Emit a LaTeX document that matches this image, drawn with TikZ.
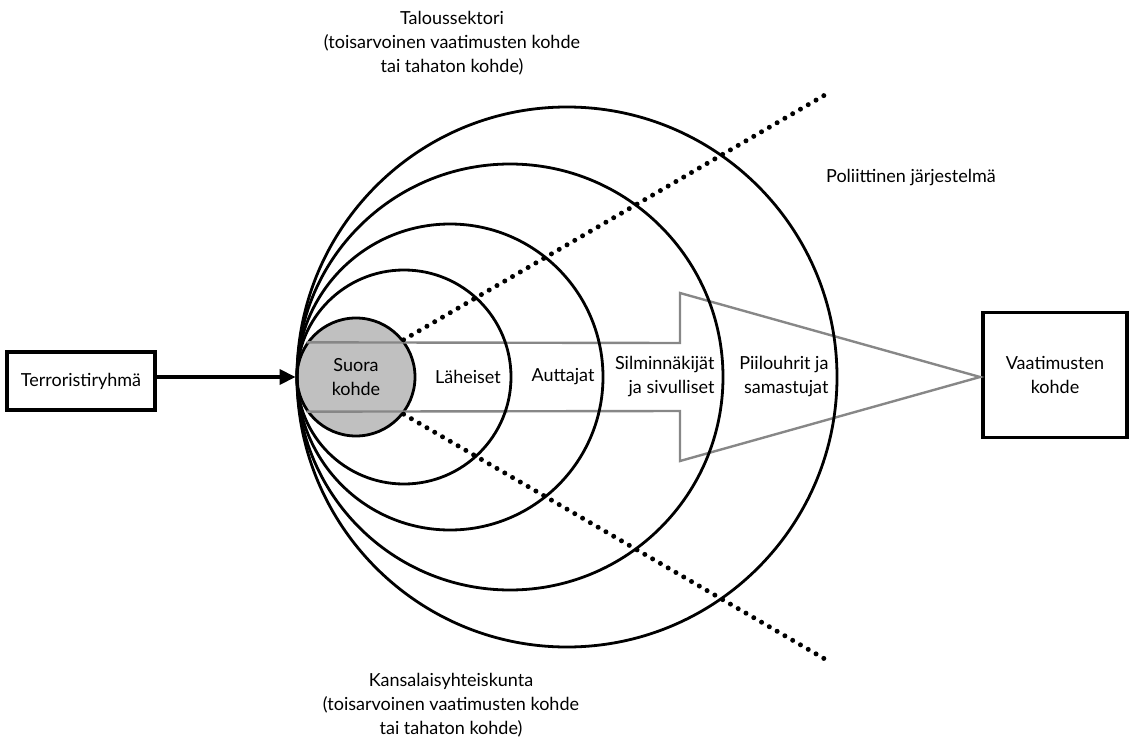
\documentclass[tikz,border=0pt]{standalone}
\usepackage{fontspec}
\setmainfont{Lato}
\usetikzlibrary{arrows.meta}
\definecolor{kohdegray}{RGB}{192,192,192}
\definecolor{nuoligray}{RGB}{135,135,135}
\def\nuoli{-- (680,343) -- (680,293) -- (980,377) -- (680,461) -- (680,411)}

\begin{document}
\begin{tikzpicture}[x=1pt,y=-1pt,
        every node/.style={font=\fontsize{18}{24}\selectfont},
        ring/.style={draw,line width=2.8pt},
        laatikko/.style={draw,line width=3.2pt},
        pisteet/.style={line width=5pt,dash pattern=on 0pt off 9pt,line cap=round}]
                \useasboundingbox (0,0) rectangle (1131,738);
                % kohteet
                \node[laatikko,minimum width=148pt,minimum height=58pt] (terror) at (81,381) {Terroristiryhmä};
                \node[laatikko,minimum width=144pt,minimum height=125pt,align=center] (vaatimus) at (1055,375) {Vaatimusten\\kohde};
                \node[ring,circle,fill=kohdegray,minimum size=118pt,inner sep=0pt,align=center] (suora) at (356,377) {Suora\\kohde};
                \draw[nuoligray,line width=2.4pt] (suora.145) \nuoli -- (suora.215);
                \foreach \r in {107,153,213,270}
                    \draw[ring] (297+\r,377) circle (\r pt);
                \draw[pisteet] (suora.38) -- (830,92);
                \draw[pisteet] (suora.-38) -- (830,662);
                \draw[line width=3.4pt,-{Triangle[length=16pt,width=15pt]}] (terror.east |- suora.west) -- (suora.west);
                % renkaiden tekstit
                \node (laheiset) at (468,377) {Läheiset};
                \node (auttajat) at (563,377) {Auttajat};
                \node[anchor=east,align=right] (silmin) at (718,377) {Silminnäkijät\\ja sivulliset};
                \node[anchor=east,align=right] (piilo) at (832,377) {Piilouhrit ja\\samastujat};
                \node[align=center] (talous) at (452,43) {Taloussektori\\(toisarvoinen vaatimusten kohde\\tai tahaton kohde)};
                \node[align=center] (kansa) at (451,705) {Kansalaisyhteiskunta\\(toisarvoinen vaatimusten kohde\\tai tahaton kohde)};
                \node (poliitti) at (911,178) {Poliittinen järjestelmä};
            \end{tikzpicture}
\end{document}
